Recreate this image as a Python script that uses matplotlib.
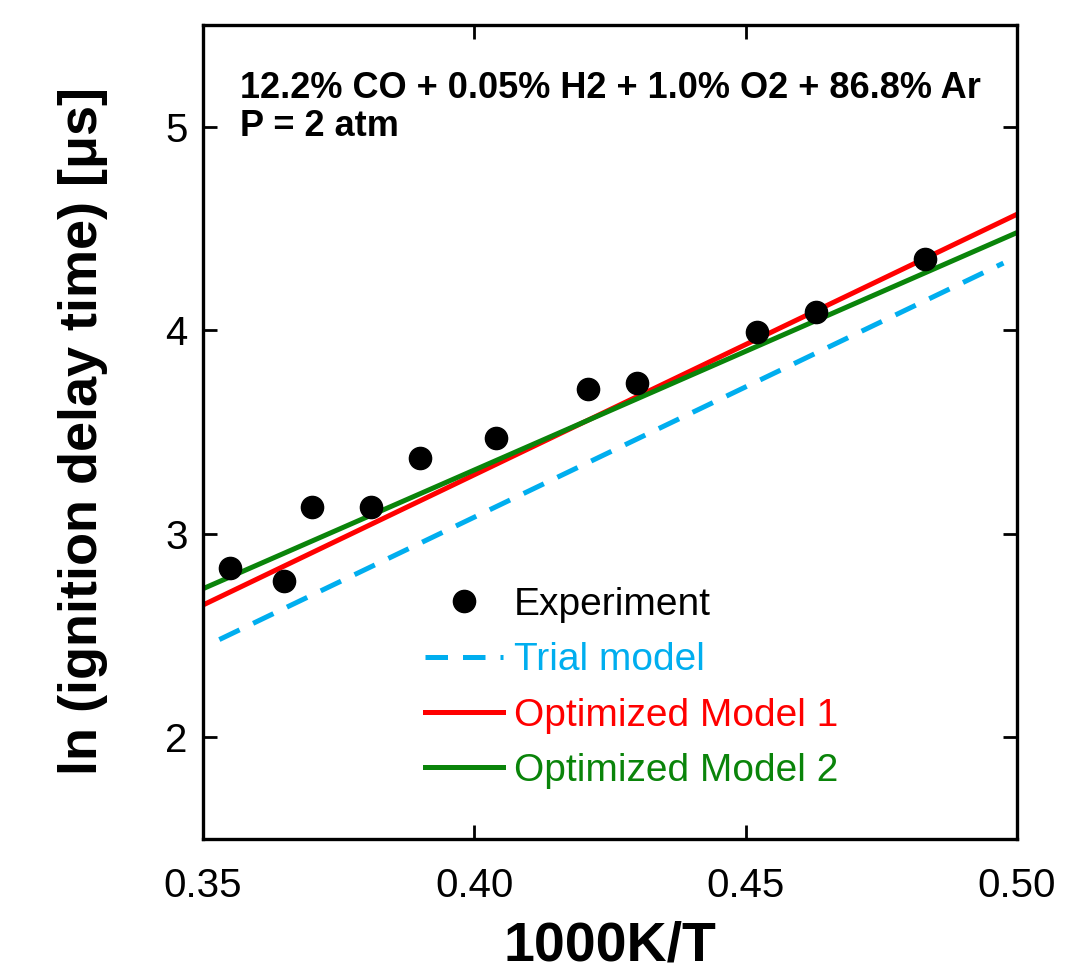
import numpy as np
import matplotlib
matplotlib.use("Agg")
import matplotlib.pyplot as plt

# ==============================
# DATA
# ==============================
exp_x = [0.355, 0.365, 0.370, 0.381, 0.390, 0.404, 0.421, 0.430, 0.452, 0.463, 0.483]
exp_y = [2.83, 2.77, 3.13, 3.13, 3.37, 3.47, 3.71, 3.74, 3.99, 4.09, 4.35]

trial_x = [0.353, 0.4975]
trial_y = [2.48, 4.33]

opt1_x = [0.35, 0.50]
opt1_y = [2.65, 4.57]

opt2_x = [0.35, 0.50]
opt2_y = [2.73, 4.48]

xticks = [0.35, 0.40, 0.45, 0.50]
xtick_labels = ["0.35", "0.40", "0.45", "0.50"]
yticks = [2, 3, 4, 5]

labels = ["Experiment", "Trial model", "Optimized Model 1", "Optimized Model 2"]
colors = ["black", "#00AEEF", "#FF0000", "#0A840A"]

# ==============================
# PLOT
# ==============================
plt.rcParams['font.family'] = ['Liberation Sans', 'DejaVu Sans']

fig = plt.figure(figsize=(10.72, 9.73), dpi=100)
ax = fig.add_axes([0.1894, 0.1377, 0.7593, 0.8366])

h_exp, = ax.plot(exp_x, exp_y, 'o', color=colors[0], markersize=16, label=labels[0], zorder=5)
h_trial, = ax.plot(trial_x, trial_y, color=colors[1], lw=3.6, dashes=(4.5, 3), label=labels[1])
h_opt1, = ax.plot(opt1_x, opt1_y, color=colors[2], lw=3.6, label=labels[2])
h_opt2, = ax.plot(opt2_x, opt2_y, color=colors[3], lw=3.6, label=labels[3])

ax.set_xlim(0.35, 0.50)
ax.set_ylim(1.5, 5.5)
ax.set_xticks(xticks)
ax.set_xticklabels(xtick_labels)
ax.set_yticks(yticks)

for s in ax.spines.values():
    s.set_linewidth(2.4)

ax.tick_params(direction='in', length=10, width=2, top=True, right=True, labelsize=29)
ax.tick_params(axis='x', pad=20)
ax.tick_params(axis='y', pad=11)

ax.set_xlabel("1000K/T", fontsize=40, fontweight='bold', labelpad=11)
ax.set_ylabel("ln (ignition delay time) [$\\mathregular{\\mu}$s]", fontsize=39,
              fontweight='bold', labelpad=40)

ax.text(0.045, 0.944, "12.2% CO + 0.05% H2 + 1.0% O2 + 86.8% Ar\nP = 2 atm",
        transform=ax.transAxes, fontsize=26, fontweight='bold', va='top', ha='left',
        linespacing=1.12)

leg = ax.legend(handles=[h_exp, h_trial, h_opt1, h_opt2], loc='upper left',
                bbox_to_anchor=(0.273, 0.31), frameon=False, fontsize=28,
                handlelength=2.0, handletextpad=0.28, labelspacing=0.5,
                borderpad=0, borderaxespad=0)
for txt, c in zip(leg.get_texts(), colors):
    txt.set_color(c)

fig.savefig("out.png", dpi=100)
